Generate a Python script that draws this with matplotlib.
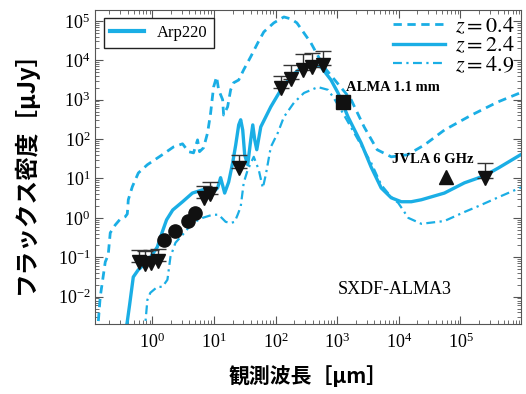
import numpy as np
import matplotlib.pyplot as plt
from matplotlib.lines import Line2D

plt.rcParams['mathtext.fontset'] = 'stix'
plt.rcParams['font.family'] = ['Liberation Serif', 'DejaVu Serif']

cyan = '#1aaee5'
jp = ['Noto Sans CJK JP', 'DejaVu Sans']

# Arp220 テンプレート (log10 波長 [um], log10 フラックス [uJy])
z04_logw = [-0.896, -0.879, -0.847, -0.765, -0.717, -0.684, -0.603, -0.521, -0.440, -0.407,
            -0.391, -0.326, -0.228, -0.081, 0.130, 0.342, 0.489, 0.586, 0.668, 0.733,
            0.765, 0.831, 0.896, 0.945, 0.993, 1.042, 1.075, 1.140, 1.156, 1.221,
            1.270, 1.319, 1.401, 1.482, 1.596, 1.710, 1.808, 1.971, 2.134, 2.248,
            2.345, 2.573, 2.785, 2.997, 3.225, 3.436, 3.648, 3.876, 4.137, 4.414,
            4.739, 5.179, 5.603, 6.010]
z04_logf = [-2.97, -2.66, -2.01, -1.12, -0.94, -0.38, -0.18, -0.03, 0.03, 0.10,
            0.46, 0.79, 1.14, 1.35, 1.57, 1.80, 1.88, 1.68, 1.65, 1.98,
            1.68, 1.78, 2.16, 2.66, 3.32, 3.58, 3.25, 3.00, 2.61, 2.82,
            3.25, 3.43, 3.50, 3.76, 4.09, 4.44, 4.72, 4.95, 5.10, 5.05,
            4.95, 4.44, 3.83, 3.43, 3.00, 2.31, 1.73, 1.55, 1.60, 1.85,
            2.23, 2.61, 2.94, 3.20]

z24_logw = [-0.45, -0.41, -0.37, -0.31, -0.23, -0.07, 0.08, 0.16, 0.23, 0.33,
            0.49, 0.65, 0.81, 0.94, 1.01, 1.059, 1.107, 1.173, 1.238, 1.303,
            1.352, 1.401, 1.433, 1.466, 1.498, 1.547, 1.596, 1.629, 1.661, 1.694,
            1.759, 1.922, 2.085, 2.248, 2.410, 2.622, 2.736, 2.899, 3.013, 3.176,
            3.388, 3.550, 3.713, 3.876, 4.039, 4.202, 4.365, 4.739, 5.065, 5.391,
            5.619, 6.026]
z24_logf = [-2.95, -2.66, -2.21, -1.50, -1.32, -1.09, -0.74, -0.36, -0.05, 0.20,
            0.41, 0.63, 0.71, 0.76, 0.69, 0.76, 1.02, 0.63, 0.91, 1.40,
            1.85, 2.36, 2.49, 2.23, 1.60, 1.35, 1.98, 2.36, 1.98, 1.73,
            2.31, 2.82, 3.25, 3.58, 3.81, 3.88, 3.83, 3.50, 3.17, 2.56,
            1.90, 1.29, 0.76, 0.51, 0.41, 0.41, 0.46, 0.63, 0.89, 1.07,
            1.27, 1.65]

z49_logw = [-0.130, -0.081, -0.033, 0.081, 0.163, 0.244, 0.293, 0.375, 0.489, 0.651,
            0.814, 0.977, 1.075, 1.189, 1.270, 1.336, 1.384, 1.433, 1.482, 1.547,
            1.645, 1.726, 1.792, 1.840, 1.922, 2.036, 2.134, 2.296, 2.459, 2.687,
            2.850, 2.932, 3.062, 3.274, 3.550, 3.713, 3.876, 3.990, 4.153, 4.365,
            4.739, 5.065, 5.293, 5.668, 6.010]
z49_logf = [-2.95, -2.08, -1.90, -1.75, -1.75, -1.57, -0.99, -0.63, -0.43, -0.13,
            0.00, 0.08, 0.08, -0.10, -0.13, -0.10, 0.08, 0.28, 0.89, 1.22,
            1.55, 1.22, 0.76, 1.09, 1.80, 2.16, 2.56, 2.92, 3.17, 3.32,
            3.25, 3.07, 2.74, 2.16, 1.40, 0.84, 0.53, 0.38, 0.00, -0.15,
            -0.08, 0.15, 0.30, 0.56, 0.79]

# 観測データ
det_logw = [0.195, 0.375, 0.586, 0.684]
det_logf = [-0.56, -0.33, -0.08, 0.13]

ul_logw = [-0.212, -0.114, -0.016, 0.098, 0.831, 0.928, 1.401,
           2.085, 2.248, 2.443, 2.590, 2.769, 5.391]
ul_logf = [-1.12, -1.17, -1.14, -1.09, 0.51, 0.61, 1.27,
           3.30, 3.53, 3.76, 3.83, 3.88, 1.02]
ul_logcap = [-0.81, -0.84, -0.81, -0.79, 0.81, 0.91, 1.60,
             3.60, 3.88, 4.16, 4.19, 4.24, 1.40]

alma_logw, alma_logf = 3.094, 2.94
jvla_logw, jvla_logf = 4.772, 1.04

fig = plt.figure(figsize=(5.26, 3.94), dpi=100)
ax = fig.add_axes([0.181, 0.178, 0.809, 0.797])

ax.plot(10**np.array(z04_logw), 10**np.array(z04_logf), color=cyan, lw=2, ls=(0, (3, 2)))
ax.plot(10**np.array(z24_logw), 10**np.array(z24_logf), color=cyan, lw=2.4, ls='-')
ax.plot(10**np.array(z49_logw), 10**np.array(z49_logf), color=cyan, lw=1.6, ls=(0, (4, 2, 1, 2)))

ulw = 10**np.array(ul_logw)
ulf = 10**np.array(ul_logf)
ulc = 10**np.array(ul_logcap)
ax.errorbar(ulw, ulf, yerr=[np.zeros_like(ulf), ulc - ulf], fmt='v', color='#111111',
            ms=10, ecolor='#333333', elinewidth=1, capsize=6, capthick=1, zorder=5)
ax.plot(10**np.array(det_logw), 10**np.array(det_logf), 'o', color='#111111', ms=9.5, zorder=5)
ax.plot(10**alma_logw, 10**alma_logf, 's', color='#111111', ms=9.5, zorder=5)
ax.plot(10**jvla_logw, 10**jvla_logf, '^', color='#111111', ms=10, zorder=5)

ax.text(0.589, 0.753, 'ALMA 1.1 mm', transform=ax.transAxes, fontsize=10.5,
        fontweight='bold', va='center')
ax.text(0.697, 0.522, 'JVLA 6 GHz', transform=ax.transAxes, fontsize=10.5,
        fontweight='bold', va='center')
ax.text(0.57, 0.108, 'SXDF-ALMA3', transform=ax.transAxes, fontsize=13, va='center')

ax.set_xscale('log')
ax.set_yscale('log')
ax.set_xlim(10**-0.928, 10**5.978)
ax.set_ylim(10**-2.69, 10**5.28)

ax.tick_params(which='both', direction='in', top=True, right=True, color='#555555')
ax.tick_params(which='major', length=6, labelsize=13)
ax.tick_params(axis='x', which='major', pad=6)
ax.tick_params(which='minor', length=3)
for s in ax.spines.values():
    s.set_color('#555555')

ax.set_xlabel('観測波長［μm］', family=jp, fontsize=15, fontweight='bold', labelpad=10)
ax.set_ylabel('フラックス密度［μJy］', family=jp, fontsize=17, fontweight='bold', labelpad=14)

leg1 = ax.legend([Line2D([], [], color=cyan, lw=3)], ['Arp220'], loc='upper left',
                 fontsize=12, fancybox=False, edgecolor='#222222', framealpha=1,
                 handlelength=2, borderaxespad=0.5)
leg1.get_frame().set_linewidth(1)
ax.add_artist(leg1)

h = [Line2D([], [], color=cyan, lw=2, ls=(0, (3, 2))),
     Line2D([], [], color=cyan, lw=2.4),
     Line2D([], [], color=cyan, lw=1.6, ls=(0, (4, 2, 1, 2)))]
ax.legend(h, ['$z=0.4$', '$z=2.4$', '$z=4.9$'], loc='upper right', frameon=False,
          fontsize=16, handlelength=2.3, labelspacing=-0.05, handletextpad=0.45,
          borderaxespad=0.1, borderpad=0.2)

plt.savefig('out.png', dpi=100)
